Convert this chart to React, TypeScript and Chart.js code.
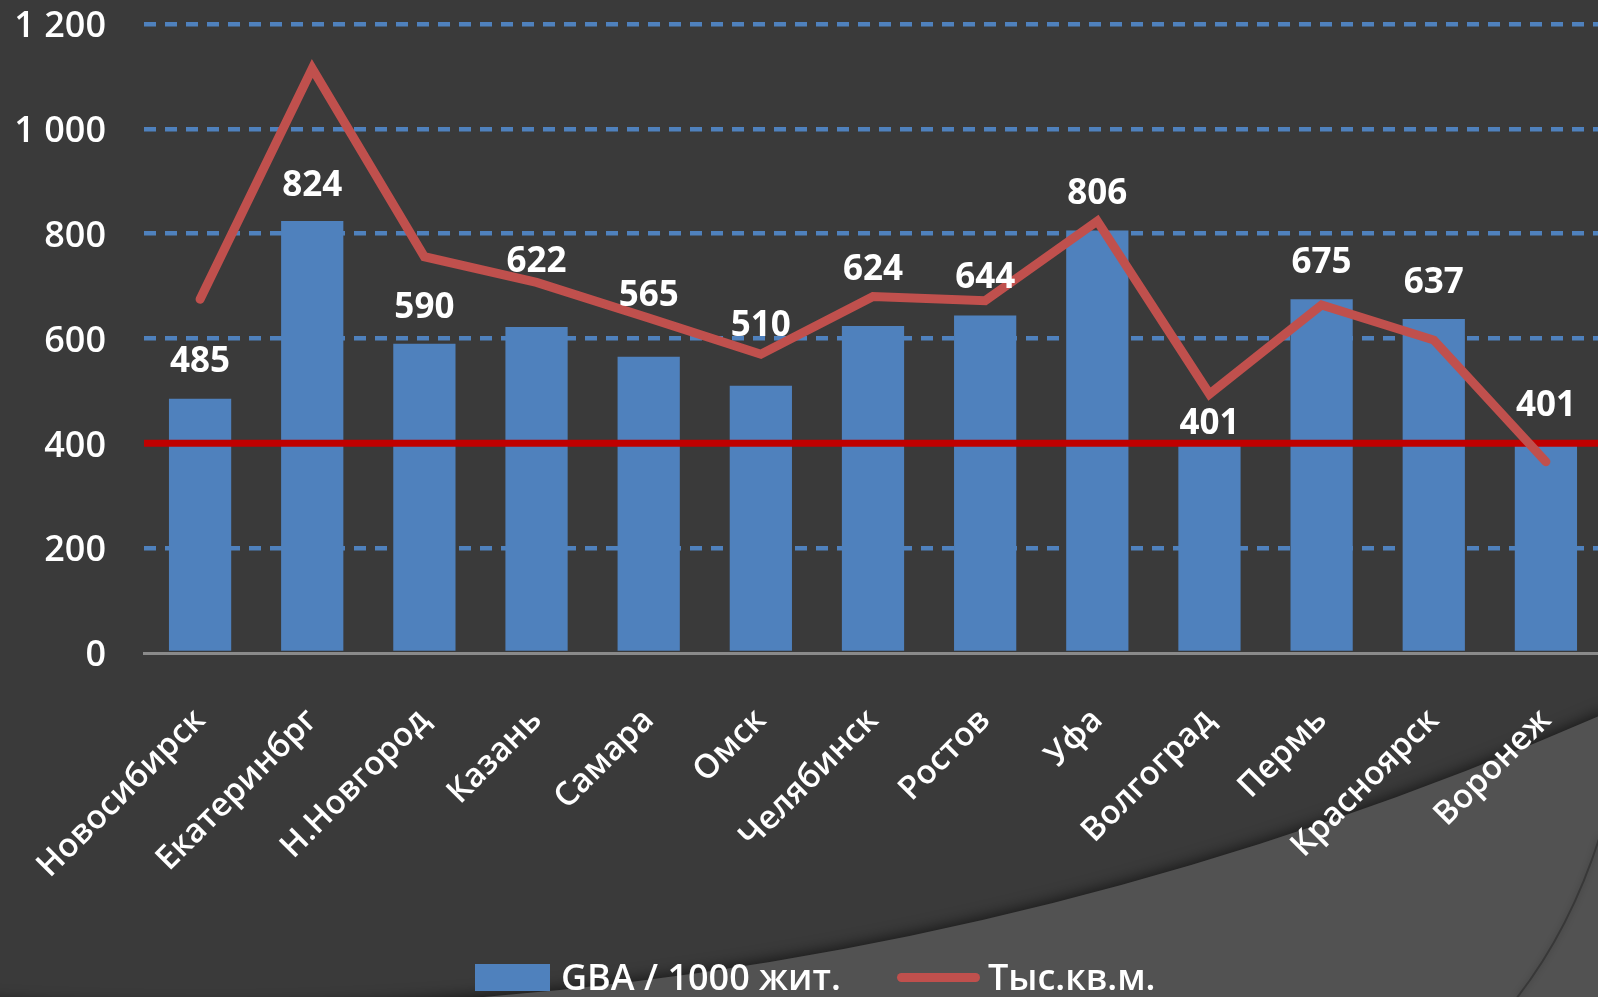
import React, { useEffect, useRef } from 'react';
import { Chart, registerables } from 'chart.js';

Chart.register(...registerables);

// ---------- data ----------
const CATEGORIES = [
  'Новосибирск', 'Екатеринбрг', 'Н.Новгород', 'Казань', 'Самара', 'Омск',
  'Челябинск', 'Ростов', 'Уфа', 'Волгоград', 'Пермь', 'Красноярск', 'Воронеж',
];
const GBA_PER_1000 = [485, 824, 590, 622, 565, 510, 624, 644, 806, 401, 675, 637, 401];
const THOUSAND_SQM = [675, 1115, 756, 707, 639, 570, 680, 672, 824, 494, 664, 597, 365];
const SERIES_NAMES = ['GBA / 1000 жит.', 'Тыс.кв.м.'];
const Y_MIN = 0;
const Y_MAX = 1200;
const Y_STEP = 200;
const THRESHOLD = 400;

// ---------- style ----------
const W = 1598;
const H = 997;
const CANVAS_W = 1602;
const BAR_COLOR = '#4f81bd';
const LINE_COLOR = '#c0504d';
const THRESHOLD_COLOR = '#c00000';
const BG = '#3a3a3a';
const BG_LIGHT = '#525252';
const FONT = '"Open Sans", "Noto Sans", sans-serif';
// how far (px) each value label sits above its bar top (manual placement as in the original)
const LABEL_LIFT = [37, 35, 36, 65, 61, 60, 56, 37, 36, 19, 36, 36, 37];

const fmt = (v: number) => String(v).replace(/\B(?=(\d{3})+(?!\d))/g, ' ');

const backgroundPlugin = {
  id: 'slideBackground',
  beforeDraw(chart: any) {
    const { ctx, width, height } = chart;
    ctx.save();
    ctx.fillStyle = BG;
    ctx.fillRect(0, 0, width, height);
    ctx.beginPath();
    ctx.moveTo(-20, 1002);
    ctx.quadraticCurveTo(831, 1052, width + 4, 713);
    ctx.lineTo(width + 4, height + 20);
    ctx.lineTo(-20, height + 20);
    ctx.closePath();
    ctx.shadowColor = 'rgba(0,0,0,0.55)';
    ctx.shadowBlur = 14;
    ctx.shadowOffsetY = -3;
    ctx.fillStyle = BG_LIGHT;
    ctx.fill();
    ctx.restore();
    ctx.save();
    ctx.beginPath();
    ctx.moveTo(1516, height + 2);
    ctx.quadraticCurveTo(1570, 930, 1600, 836);
    ctx.strokeStyle = 'rgba(40,40,40,0.55)';
    ctx.lineWidth = 2;
    ctx.shadowColor = 'rgba(0,0,0,0.5)';
    ctx.shadowBlur = 6;
    ctx.stroke();
    ctx.restore();
  },
};

const thresholdPlugin = {
  id: 'threshold',
  beforeDatasetDraw(chart: any, args: any) {
    if (args.index !== 1) return;
    const { ctx, chartArea, scales } = chart;
    const y = scales.y.getPixelForValue(THRESHOLD);
    ctx.save();
    ctx.strokeStyle = THRESHOLD_COLOR;
    ctx.lineWidth = 7;
    ctx.beginPath();
    ctx.moveTo(chartArea.left, y);
    ctx.lineTo(chartArea.right, y);
    ctx.stroke();
    ctx.restore();
  },
};

const valueLabelPlugin = {
  id: 'valueLabels',
  afterDatasetsDraw(chart: any) {
    const { ctx } = chart;
    const meta = chart.getDatasetMeta(0);
    const data = chart.data.datasets[0].data;
    ctx.save();
    ctx.font = `bold 35px ${FONT}`;
    ctx.fillStyle = '#ffffff';
    ctx.textAlign = 'center';
    ctx.textBaseline = 'middle';
    meta.data.forEach((bar: any, i: number) => {
      ctx.fillText(String(data[i]), bar.x, bar.y - LABEL_LIFT[i]);
    });
    ctx.restore();
  },
};

export default function App() {
  const ref = useRef<HTMLCanvasElement | null>(null);

  useEffect(() => {
    document.body.style.margin = '0';
    if (!ref.current) return;
    const chart = new Chart(ref.current, {
      type: 'bar',
      data: {
        labels: CATEGORIES,
        datasets: [
          {
            type: 'bar',
            label: SERIES_NAMES[0],
            data: GBA_PER_1000,
            backgroundColor: BAR_COLOR,
            barPercentage: 0.555,
            categoryPercentage: 1,
            order: 1,
          } as any,
          {
            type: 'line',
            label: SERIES_NAMES[1],
            data: THOUSAND_SQM,
            borderColor: LINE_COLOR,
            borderWidth: 9,
            pointRadius: 0,
            tension: 0,
            borderJoinStyle: 'miter',
            borderCapStyle: 'round',
            fill: false,
            order: 0,
          } as any,
        ],
      },
      options: {
        responsive: false,
        animation: false,
        devicePixelRatio: 1,
        events: [],
        layout: { padding: { top: 24, left: 0, right: 0, bottom: 0 } },
        plugins: {
          legend: { display: false },
          tooltip: { enabled: false },
        },
        scales: {
          x: {
            grid: { display: false },
            border: { display: true, color: '#8a8a8a', width: 3 },
            ticks: {
              color: '#ffffff',
              autoSkip: false,
              maxRotation: 45,
              minRotation: 45,
              padding: 40,
              font: { family: FONT, size: 33, weight: '600' },
            },
            afterFit: (s: any) => {
              s.height = H - 653;
              s.paddingLeft = 0;
              s.paddingRight = 0;
            },
          },
          y: {
            min: Y_MIN,
            max: Y_MAX,
            border: { display: false, dash: [12, 9] },
            grid: {
              color: (c: any) => (c.tick && c.tick.value === 0 ? 'rgba(0,0,0,0)' : BAR_COLOR),
              lineWidth: 4.5,
              drawTicks: false,
            },
            ticks: {
              stepSize: Y_STEP,
              color: '#ffffff',
              padding: 38,
              labelOffset: 3,
              font: { family: FONT, size: 36, weight: '600' },
              callback: (v: any) => fmt(Number(v)),
            },
            afterFit: (s: any) => {
              s.width = 144;
              s.paddingTop = 0;
              s.paddingBottom = 0;
            },
          },
        },
      },
      plugins: [backgroundPlugin, thresholdPlugin, valueLabelPlugin],
    });
    return () => chart.destroy();
  }, []);

  const legendText: React.CSSProperties = {
    position: 'absolute',
    top: 959,
    font: `600 36px ${FONT}`,
    lineHeight: 1,
    color: '#ffffff',
    whiteSpace: 'nowrap',
  };

  return (
    <div style={{ position: 'fixed', left: 0, top: 0, width: W, height: H, overflow: 'hidden' }}>
      <canvas ref={ref} width={CANVAS_W} height={H} style={{ display: 'block' }} />
      <div style={{ position: 'absolute', left: 475, top: 964, width: 75, height: 27, background: BAR_COLOR }} />
      <div style={{ ...legendText, left: 561 }}>{SERIES_NAMES[0]}</div>
      <div style={{ position: 'absolute', left: 897, top: 973, width: 83, height: 9, borderRadius: 4.5, background: LINE_COLOR }} />
      <div style={{ ...legendText, left: 988 }}>{SERIES_NAMES[1]}</div>
    </div>
  );
}
